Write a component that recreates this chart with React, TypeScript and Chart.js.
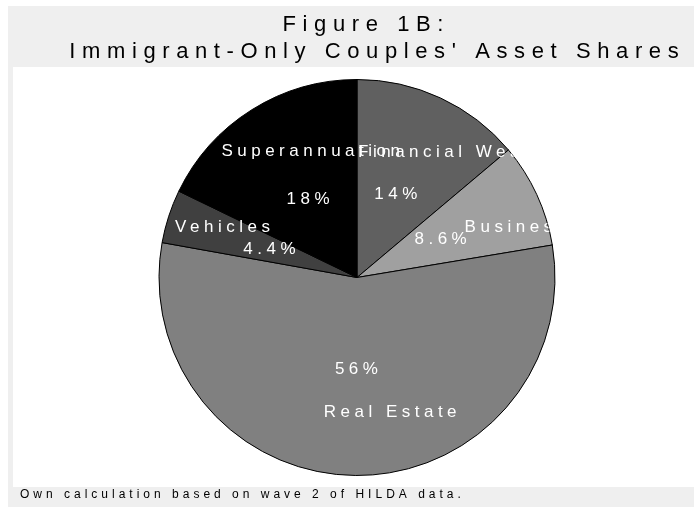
import React, { useEffect, useRef } from "react";
import { Chart, registerables } from "chart.js";

Chart.register(...registerables);

const categories = ["Financial Wealth", "Business", "Real Estate", "Vehicles", "Superannuation"];
const shares = [14, 8.6, 56, 4.4, 18];
const shareLabels = ["14%", "8.6%", "56%", "4.4%", "18%"];
const sliceColors = ["#606060", "#a0a0a0", "#808080", "#404040", "#000000"];
const titleLines = ["Figure 1B:", "Immigrant-Only Couples' Asset Shares"];
const note = "Own calculation based on wave 2 of HILDA data.";

const FONT = '"Liberation Sans", Arial, Helvetica, sans-serif';

function spacedText(
  ctx: CanvasRenderingContext2D,
  text: string,
  x: number,
  y: number,
  size: number,
  spacing: number,
  align: "center" | "left",
  color: string
) {
  ctx.font = `${size}px ${FONT}`;
  (ctx as any).letterSpacing = `${spacing}px`;
  ctx.fillStyle = color;
  ctx.textAlign = "left";
  ctx.textBaseline = "middle";
  const w = ctx.measureText(text).width - spacing;
  const left = align === "center" ? x - w / 2 : x;
  ctx.fillText(text, left, y);
}

// nudges of the name labels relative to their mid-angle anchor (px)
const nameNudges: [number, number][] = [
  [39, 0],
  [32, 7.6],
  [34, -3.6],
  [-2.7, -7.6],
  [27.3, -8.4],
];

const framePlugin = {
  id: "frame",
  beforeDraw(chart: any) {
    const ctx = chart.ctx as CanvasRenderingContext2D;
    const W = chart.width;
    const H = chart.height;
    ctx.save();
    ctx.fillStyle = "#ffffff";
    ctx.fillRect(0, 0, W, H);
    ctx.fillStyle = "#efefef";
    ctx.fillRect(8, 6, W - 8, H - 6);
    ctx.fillStyle = "#ffffff";
    ctx.fillRect(13, 67, W - 13, 420);
    ctx.restore();
  },
  afterDraw(chart: any) {
    const ctx = chart.ctx as CanvasRenderingContext2D;
    ctx.save();
    spacedText(ctx, titleLines[0], 363, 25, 22, 6.6, "center", "#000000");
    spacedText(ctx, titleLines[1], 374, 52, 22, 6.6, "center", "#000000");
    spacedText(ctx, note, 20, 495, 12, 4, "left", "#000000");
    ctx.restore();

    const meta = chart.getDatasetMeta(0);
    const arcs = meta.data;
    if (!arcs.length) return;
    const a0 = arcs[0];
    const cx = a0.x;
    const cy = a0.y;
    const R = a0.outerRadius;
    ctx.save();
    ctx.beginPath();
    ctx.arc(cx, cy, R, 0, Math.PI * 2);
    ctx.clip();
    arcs.forEach((arc: any, i: number) => {
      const mid = (arc.startAngle + arc.endAngle) / 2;
      const px = cx + Math.cos(mid) * R * 0.465;
      const py = cy + Math.sin(mid) * R * 0.465;
      spacedText(ctx, shareLabels[i], px, py, 17, 4.5, "center", "#ffffff");
      const nx = cx + Math.cos(mid) * R * 0.7 + nameNudges[i][0];
      const ny = cy + Math.sin(mid) * R * 0.7 + nameNudges[i][1];
      spacedText(ctx, categories[i], nx, ny, 17, 4.5, "center", "#ffffff");
    });
    ctx.restore();
  },
};

export default function App() {
  const ref = useRef<HTMLCanvasElement | null>(null);
  useEffect(() => {
    document.body.style.margin = "0";
    if (!ref.current) return;
    const chart = new Chart(ref.current, {
      type: "pie",
      data: {
        labels: categories,
        datasets: [
          {
            data: shares,
            backgroundColor: sliceColors,
            borderColor: "#000000",
            borderWidth: 1,
          },
        ],
      },
      options: {
        animation: false,
        responsive: false,
        devicePixelRatio: 1,
        layout: { padding: { top: 79, bottom: 31, left: 158, right: 138 } },
        plugins: {
          legend: { display: false },
          tooltip: { enabled: false },
          title: { display: false },
        },
      },
      plugins: [framePlugin],
    });
    return () => chart.destroy();
  }, []);
  return (
    <div style={{ width: 694, height: 507 }}>
      <canvas ref={ref} width={694} height={507} style={{ display: "block" }} />
    </div>
  );
}
